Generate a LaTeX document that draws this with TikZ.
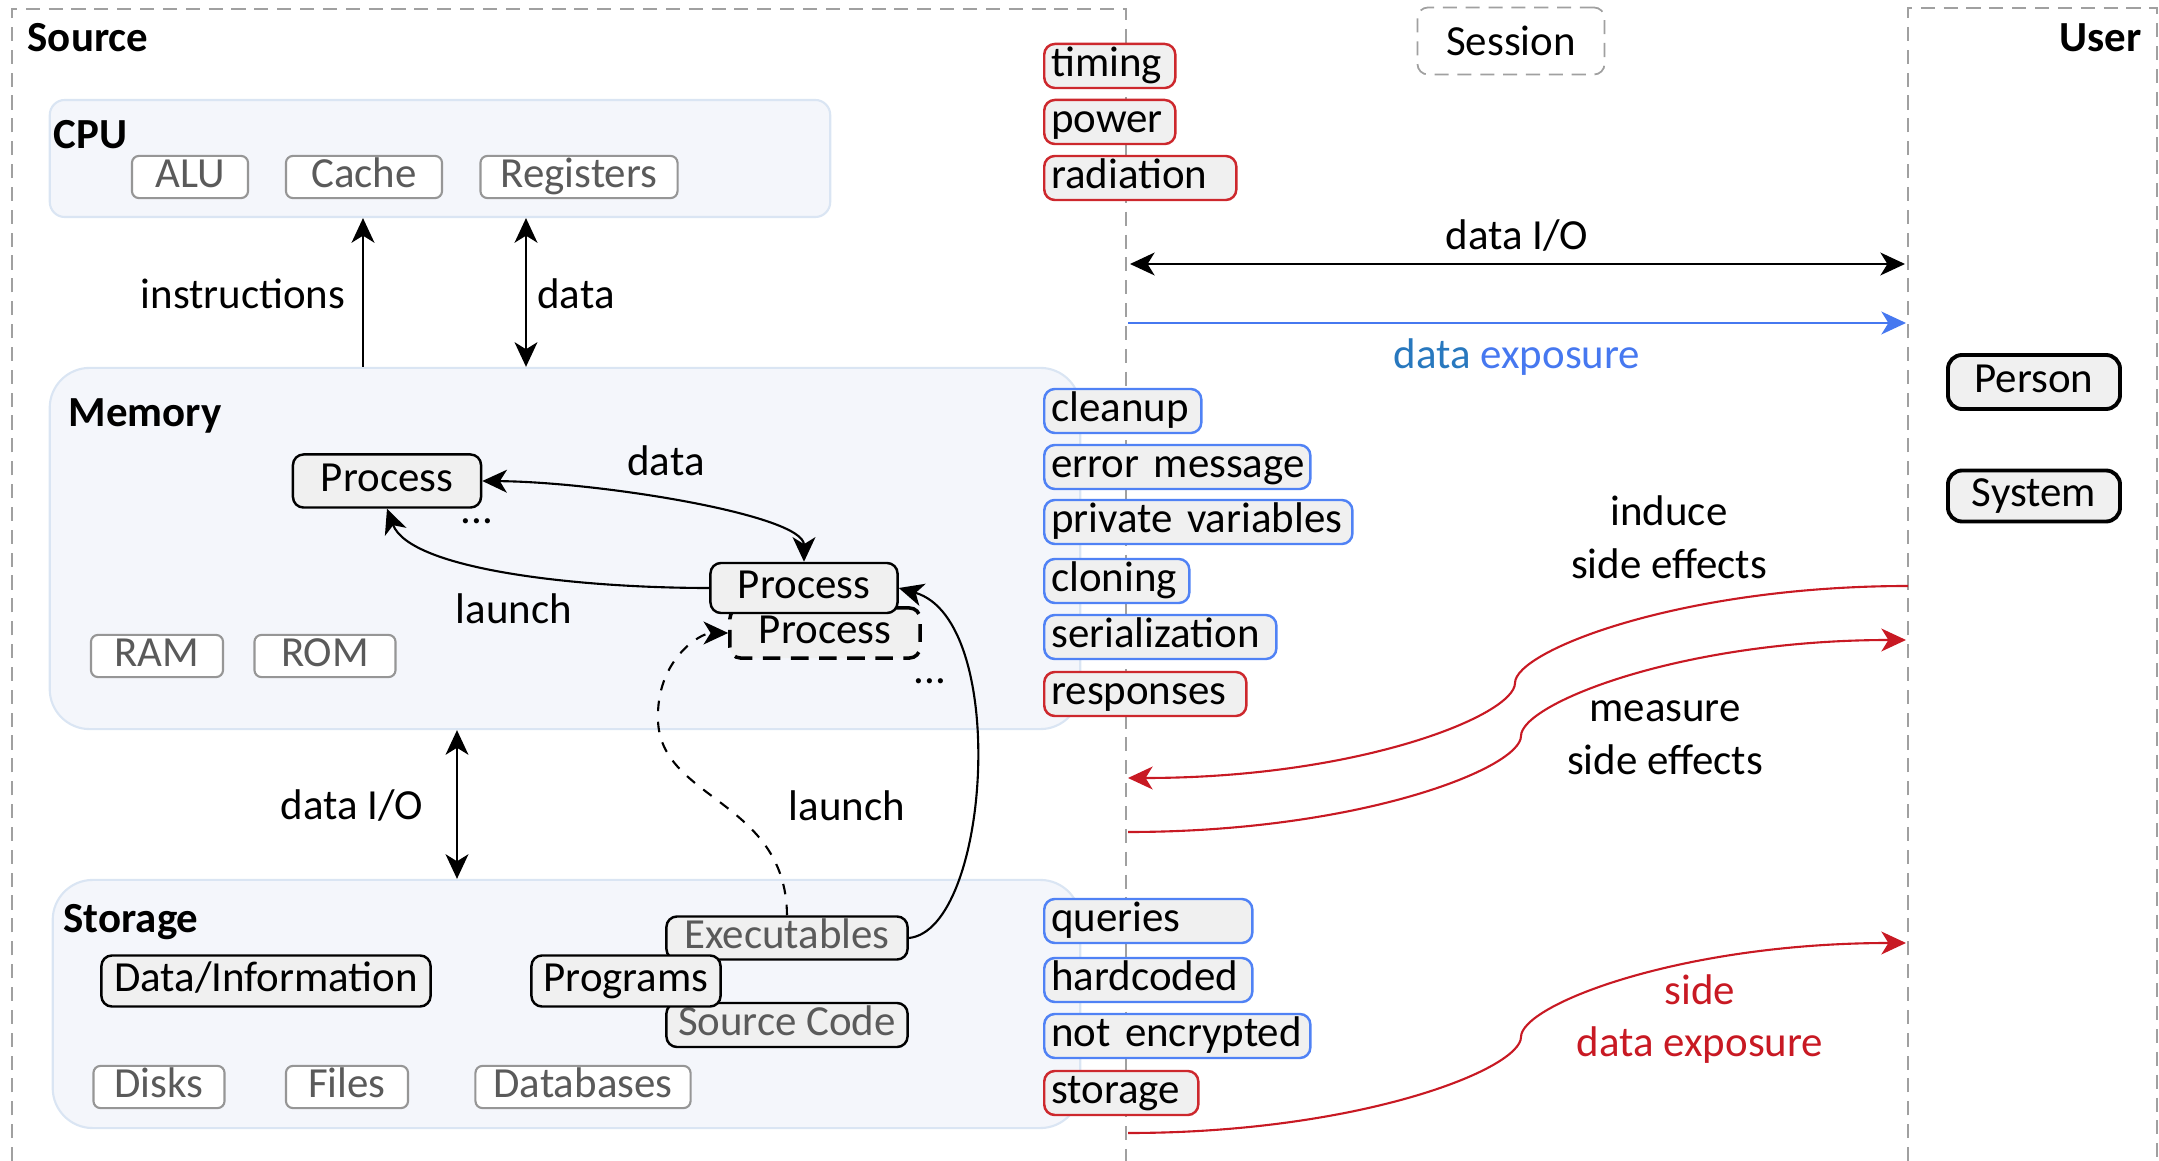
\documentclass[tikz,border=0pt]{standalone}
\usepackage{fontspec}
\setmainfont{Carlito}
\usetikzlibrary{arrows.meta}
\definecolor{lanegray}{RGB}{160,160,160}
\definecolor{groupfill}{RGB}{244,246,251}
\definecolor{groupline}{RGB}{218,229,243}
\definecolor{procfill}{RGB}{240,240,240}
\definecolor{partgray}{RGB}{150,150,150}
\definecolor{parttext}{RGB}{90,90,90}
\definecolor{vecred}{RGB}{205,40,45}
\definecolor{vecblue}{RGB}{80,130,245}
\definecolor{arrred}{RGB}{200,25,35}
\definecolor{expblue}{RGB}{70,120,240}
\definecolor{datablue}{RGB}{40,120,190}
\newcommand{\sz}{\fontsize{12.2}{15}\selectfont}
\hyphenpenalty=10000
\begin{document}
\begin{tikzpicture}[x=0.01cm,y=-0.01cm,font=\sz,
  lane/.style={draw=lanegray,line width=0.5pt,dash pattern=on 4pt off 2.5pt},
  group/.style={draw=groupline,fill=groupfill,line width=0.6pt},
  part/.style={draw=partgray,fill=white,text=parttext,rounded corners=2pt,line width=0.6pt,minimum height=0.41cm,inner sep=0pt,text height=9pt,text depth=3pt},
  proc/.style={draw=black,fill=procfill,rounded corners=3pt,line width=0.7pt,inner sep=0pt,text height=9pt,text depth=3pt},
  vec/.style={fill=procfill,rounded corners=3pt,line width=0.7pt,anchor=west,inner xsep=0.07cm,inner ysep=0pt,minimum height=0.44cm,align=left,text height=9pt,text depth=3pt},
  rvec/.style={vec,draw=vecred},
  bvec/.style={vec,draw=vecblue},
  actor/.style={draw=black,fill=procfill,rounded corners=4pt,line width=1.1pt,minimum width=1.72cm,inner sep=0pt,text height=9pt,text depth=3pt},
  lbl/.style={inner sep=0pt},
  arr/.style={-{Stealth[length=7pt,width=6.5pt,inset=2pt]},line width=0.6pt},
  darr/.style={{Stealth[length=7pt,width=6.5pt,inset=2pt]}-{Stealth[length=7pt,width=6.5pt,inset=2pt]},line width=0.6pt}]
\useasboundingbox (0,0) rectangle (2159,1161);

\draw[lane] (12,1161) -- (12,9) -- (1126,9) -- (1126,1161);
\draw[lane] (1908,1161) -- (1908,8) -- (2157,8) -- (2157,1161);
\node[lane,rounded corners=3pt,minimum width=1.87cm,minimum height=0.67cm] (session) at (1511,41) {Session};

\node[group,rounded corners=0.15cm,minimum width=7.8cm,minimum height=1.17cm] (cpu) at (440,158.5) {};
\node[group,rounded corners=0.4cm,minimum width=10.3cm,minimum height=3.61cm] (memory) at (565,548.5) {};
\node[group,rounded corners=0.4cm,minimum width=10.27cm,minimum height=2.48cm] (storage) at (566.5,1004) {};

\node[lbl,font=\sz\bfseries,anchor=base west] (srclbl) at (27,52) {Source};
\node[lbl,font=\sz\bfseries,anchor=base east] (usrlbl) at (2142,52) {User};
\node[lbl,font=\sz\bfseries,anchor=base west] (cpulbl) at (53,149) {CPU};
\node[lbl,font=\sz\bfseries,anchor=base west] (memlbl) at (68,427) {Memory};
\node[lbl,font=\sz\bfseries,anchor=base west] (stolbl) at (63,933) {Storage};

\node[part,minimum width=1.16cm] (alu) at (190,177) {ALU};
\node[part,minimum width=1.56cm] (cache) at (364,177) {Cache};
\node[part,minimum width=1.97cm] (reg) at (579,177) {Registers};
\node[part,minimum width=1.32cm,minimum height=0.40cm] (ram) at (157,656) {RAM};
\node[part,minimum width=1.41cm,minimum height=0.40cm] (rom) at (325,656) {ROM};
\node[part,minimum width=1.31cm] (disks) at (159,1087) {Disks};
\node[part,minimum width=1.22cm] (files) at (347,1087) {Files};
\node[part,minimum width=2.15cm] (dbs) at (583,1087) {Databases};

\node[proc,dash pattern=on 5pt off 3pt,line width=1pt,minimum width=1.90cm,minimum height=0.50cm] (p3) at (825,633) {Process};
\node[proc,minimum width=1.87cm,minimum height=0.50cm] (p2) at (804,588) {Process};
\node[proc,minimum width=1.88cm,minimum height=0.53cm] (p1) at (387,481) {Process};

\node[proc,text=parttext,minimum width=2.41cm,minimum height=0.43cm] (exe) at (787,938) {Executables};
\node[proc,text=parttext,minimum width=2.41cm,minimum height=0.44cm] (srccode) at (787,1025) {Source Code};
\node[proc,minimum width=1.89cm,minimum height=0.51cm] (prog) at (626,981) {Programs};
\node[proc,minimum width=3.29cm,minimum height=0.51cm] (info) at (266,981) {Data/Information};

\node[rvec,text width=1.17cm] (timing) at (1043,66) {timing};
\node[rvec,text width=1.17cm] (power) at (1043,122) {power};
\node[rvec,text width=1.78cm] (radiation) at (1043,178) {radiation};
\node[bvec,text width=1.43cm] (cleanup) at (1043,411) {cleanup};
\node[bvec,text width=2.52cm] (errmsg) at (1043,467) {\mbox{error message}};
\node[bvec,text width=2.94cm] (privvar) at (1043,522) {\mbox{private variables}};
\node[bvec,text width=1.31cm] (cloning) at (1043,581) {cloning};
\node[bvec,text width=2.18cm] (serial) at (1043,637) {serialization};
\node[rvec,text width=1.88cm] (responses) at (1043,694) {responses};
\node[bvec,text width=1.94cm] (queries) at (1043,921) {queries};
\node[bvec,text width=1.94cm] (hardcoded) at (1043,980) {hardcoded};
\node[bvec,text width=2.52cm] (notenc) at (1043,1036) {\mbox{not encrypted}};
\node[rvec,text width=1.40cm] (stor) at (1043,1093) {storage};

\node[actor,minimum height=0.54cm] (person) at (2034,382) {Person};
\node[actor,minimum height=0.51cm] (system) at (2034,496) {System};

\node[lbl] (instr) at (243,294) {instructions};
\node[lbl] (cpudata) at (576,294) {data};
\node[lbl] (procdata) at (666,461) {data};
\node[lbl] (dots1) at (477,521) {...};
\node[lbl] (launch1) at (514,609) {launch};
\node[lbl] (dots2) at (930,681) {...};
\node[lbl] (memio) at (352,806) {data I/O};
\node[lbl] (launch2) at (847,806) {launch};
\node[lbl] (sessio) at (1517,236) {data I/O};
\node[lbl,text=expblue] (expo) at (1517,357) {{\color{datablue}data} exposure};
\node[lbl,align=center] (induce) at (1669,537) {induce\\side effects};
\node[lbl,align=center] (measure) at (1665,738) {measure\\side effects};
\node[lbl,align=center,text=arrred] (sidexp) at (1700,1019) {side\\data exposure};

\coordinate (insx) at (363,0);
\coordinate (datx) at (526,0);
\coordinate (iox) at (457,0);
\draw[arr] (memory.north -| insx) -- (cpu.south -| insx);
\draw[darr] (memory.north -| datx) -- (cpu.south -| datx);
\draw[darr] (memory.south -| iox) -- (storage.north -| iox);

\draw[darr] (p1.east) .. controls (600,482) and (804,515) .. (p2.north);
\draw[arr] (p2.west) .. controls (580,588) and (410,570) .. (p1.south);
\draw[arr] (exe.east) .. controls (990,930) and (1010,620) .. (p2.east);
\draw[arr,dashed] (exe.north) .. controls (786,800) and (660,800) .. (658,720) .. controls (656,660) and (700,633) .. (p3.west);

\coordinate (ioL) at (1130,264);
\coordinate (ioR) at (1905,264);
\coordinate (expL) at (1128,323);
\coordinate (expR) at (1906,323);
\draw[darr] (ioL) -- (ioR);
\draw[arr,expblue] (expL) -- (expR);

\coordinate (indR) at (1908,586);
\coordinate (indM) at (1515,683);
\coordinate (indL) at (1128,778);
\coordinate (meaL) at (1128,832);
\coordinate (meaM) at (1521,736);
\coordinate (meaR) at (1906,640);
\coordinate (sideL) at (1128,1133);
\coordinate (sideM) at (1521,1037);
\coordinate (sideR) at (1906,943);
\draw[arr,arrred] (indR) .. controls (1680,586) and (1515,651) .. (indM) .. controls (1515,715) and (1360,778) .. (indL);
\draw[arr,arrred] (meaL) .. controls (1360,832) and (1521,768) .. (meaM) .. controls (1521,704) and (1680,640) .. (meaR);
\draw[arr,arrred] (sideL) .. controls (1360,1133) and (1521,1069) .. (sideM) .. controls (1521,1005) and (1680,943) .. (sideR);
\end{tikzpicture}
\end{document}
